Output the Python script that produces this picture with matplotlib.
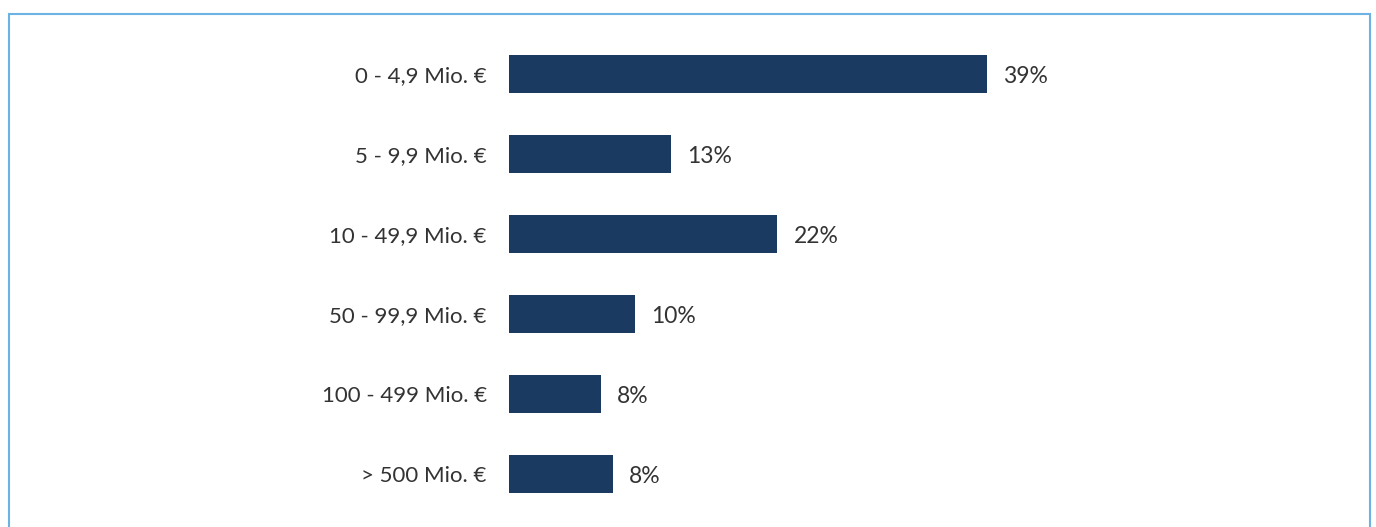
import matplotlib
matplotlib.use("Agg")
import matplotlib.pyplot as plt
from matplotlib.patches import Rectangle

categories = ["0 - 4,9 Mio. €", "5 - 9,9 Mio. €", "10 - 49,9 Mio. €",
              "50 - 99,9 Mio. €", "100 - 499 Mio. €", "> 500 Mio. €"]
values = [39.0, 13.2, 21.9, 10.3, 7.5, 8.5]
value_labels = ["39%", "13%", "22%", "10%", "8%", "8%"]

plt.rcParams['font.family'] = ['Lato', 'DejaVu Sans']

W, H = 1376, 527
fig = plt.figure(figsize=(W / 100, H / 100), dpi=100)

# border (top, left, right), bottom cut off
fig.patches.append(Rectangle((8.5 / W, -0.05), (1369.5 - 8.5) / W, 1 - 13.5 / H + 0.05,
                             transform=fig.transFigure, fill=False,
                             edgecolor="#6cb2e2", linewidth=1.5))

ax = fig.add_axes([509 / W, 1 - 514 / H, 860 / W, 480 / H])
ax.set_xlim(0, 860 / (478 / 39))
ax.set_ylim(len(categories) - 0.5, -0.5)
ypos = list(range(len(categories)))
ax.barh(ypos, values, height=0.475, color="#1b3a61", edgecolor="none")
for y, v, lab in zip(ypos, values, value_labels):
    ax.annotate(lab, (v, y), xytext=(11.5, -2), textcoords="offset points",
                ha="left", va="center", fontsize=16.5, color="#333333")
ax.set_yticks(ypos)
ax.set_yticklabels(categories, fontsize=16, color="#333333")
ax.tick_params(axis="y", length=0, pad=16)
ax.set_xticks([])
for s in ax.spines.values():
    s.set_visible(False)
ax.patch.set_alpha(0)

fig.savefig("out.png", dpi=100)
